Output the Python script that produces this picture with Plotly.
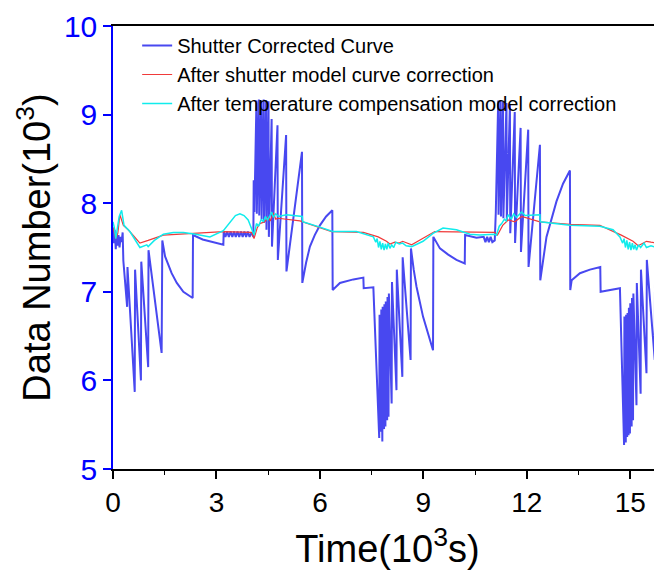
import plotly.graph_objects as go

# Shutter Corrected Curve (time in 10^3 s, data number in 10^3)
shutter_t = [0.00, 0.03, 0.05, 0.08, 0.10, 0.13, 0.16, 0.19, 0.22, 0.25, 0.28, 0.30, 0.41, 0.42,
             0.63, 0.64, 0.81, 0.82, 1.02, 1.03, 1.41, 1.43, 1.51, 1.70, 1.85, 2.04, 2.31, 2.32,
             2.60, 2.90, 3.20, 3.21, 3.26, 3.31, 3.36, 3.41, 3.46, 3.51, 3.56, 3.61, 3.66, 3.71,
             3.76, 3.81, 3.86, 3.91, 3.96, 4.02, 4.07, 4.08, 4.10, 4.16, 4.17, 4.23, 4.24, 4.30,
             4.31, 4.37, 4.38, 4.44, 4.45, 4.51, 4.52, 4.60, 4.61, 4.77, 4.78, 5.02, 5.03, 5.48,
             5.49, 5.60, 5.71, 5.85, 6.00, 6.18, 6.36, 6.37, 6.58, 6.97, 7.26, 7.27, 7.55, 7.72,
             7.73, 7.77, 7.78, 7.81, 7.82, 7.86, 7.87, 7.90, 7.91, 7.95, 7.96, 7.99, 8.00, 8.08,
             8.09, 8.22, 8.23, 8.39, 8.40, 8.63, 8.64, 8.72, 8.80, 8.99, 9.14, 9.28, 9.29, 9.48,
             9.72, 9.96, 10.20, 10.21, 10.54, 10.75, 10.80, 10.85, 10.90, 10.95, 11.00, 11.07,
             11.10, 11.17, 11.18, 11.24, 11.25, 11.31, 11.32, 11.41, 11.42, 11.51, 11.52, 11.65,
             11.66, 11.82, 11.83, 12.04, 12.05, 12.38, 12.39, 12.57, 12.86, 13.05, 13.25, 13.26,
             13.30, 13.54, 13.83, 14.13, 14.14, 14.70, 14.82, 14.83, 14.87, 14.88, 14.91, 14.92,
             14.95, 14.96, 14.99, 15.00, 15.04, 15.05, 15.08, 15.09, 15.18, 15.19, 15.30, 15.31,
             15.47, 15.48, 15.71, 15.72, 15.80, 15.92]
shutter_v = [7.72, 7.55, 7.70, 7.48, 7.66, 7.52, 7.64, 7.50, 7.62, 7.56, 7.67, 7.35, 6.83, 7.28,
             5.87, 7.25, 6.00, 7.34, 6.15, 7.47, 6.31, 7.58, 7.40, 7.21, 7.10, 7.00, 6.93, 7.64,
             7.59, 7.56, 7.53, 7.68, 7.62, 7.68, 7.62, 7.68, 7.62, 7.68, 7.62, 7.68, 7.62, 7.68,
             7.62, 7.68, 7.62, 7.68, 7.62, 7.67, 7.62, 8.26, 7.90, 9.16, 7.88, 9.17, 7.86, 9.16,
             7.82, 9.17, 7.78, 9.16, 7.70, 9.15, 7.62, 8.95, 7.51, 8.88, 7.36, 8.77, 7.23, 8.58,
             7.10, 7.33, 7.51, 7.64, 7.75, 7.85, 7.92, 7.02, 7.10, 7.14, 7.16, 7.04, 7.05, 5.35,
             6.74, 5.42, 6.80, 5.31, 6.83, 5.45, 6.86, 5.48, 6.89, 5.55, 6.94, 5.59, 6.98, 5.74,
             7.11, 5.89, 7.25, 6.04, 7.39, 6.23, 7.49, 7.25, 7.06, 6.72, 6.53, 6.34, 7.62, 7.49,
             7.42, 7.36, 7.32, 7.64, 7.61, 7.62, 7.56, 7.62, 7.56, 7.62, 7.56, 7.58,
             7.89, 9.16, 7.87, 9.16, 7.85, 9.15, 7.83, 9.13, 7.80, 9.11, 7.66, 9.03,
             7.55, 8.85, 7.45, 8.83, 7.28, 8.66, 7.13, 7.62, 8.02, 8.22, 8.37, 7.02,
             7.13, 7.21, 7.25, 7.28, 7.00, 7.04, 5.27, 6.72, 5.30, 6.74, 5.36, 6.76,
             5.38, 6.82, 5.40, 6.87, 5.48, 6.93, 5.55, 6.98, 5.72, 7.10, 5.85, 7.25,
             6.08, 7.36, 6.23, 7.47, 7.25, 6.96]

# After shutter model curve correction
model_t = [0.00, 0.08, 0.14, 0.20, 0.30, 0.44, 0.60, 0.78, 1.02, 1.46, 2.33, 3.20, 4.02, 4.09,
           4.18, 4.26, 4.40, 4.50, 4.56, 4.65, 4.72, 4.79, 5.42, 6.34, 7.26, 7.69, 7.93, 8.03,
           8.17, 8.30, 8.40, 8.66, 9.33, 11.07, 11.15, 11.30, 11.46, 11.65, 11.85, 12.38, 13.25,
           14.12, 14.74, 15.08, 15.23, 15.47, 15.60, 15.76, 15.92]
model_v = [7.73, 7.60, 7.66, 7.87, 7.75, 7.70, 7.63, 7.55, 7.58, 7.64, 7.66, 7.68, 7.67, 7.60,
           7.72, 7.77, 7.79, 7.84, 7.80, 7.89, 7.82, 7.83, 7.80, 7.68, 7.67, 7.62, 7.57, 7.54,
           7.56, 7.55, 7.57, 7.53, 7.68, 7.67, 7.64, 7.75, 7.81, 7.79, 7.85, 7.79, 7.76,
           7.75, 7.64, 7.57, 7.52, 7.57, 7.56, 7.55, 7.53]

# After temperature compensation model correction
temp_t = [0.00, 0.04, 0.08, 0.12, 0.18, 0.25, 0.32, 0.49, 0.64, 0.78, 0.98, 1.02, 1.20, 1.46,
          1.75, 2.04, 2.40, 2.81, 3.20, 3.39, 3.55, 3.68, 3.80, 3.92, 4.05, 4.09, 4.16, 4.22,
          4.30, 4.36, 4.42, 4.48, 4.55, 4.60, 4.65, 4.72, 4.80, 5.03, 5.49, 5.50, 6.00, 6.37,
          7.06, 7.55, 7.62, 7.66, 7.70, 7.74, 7.78, 7.82, 7.86, 7.90, 7.94, 7.98, 8.03, 8.08,
          8.14, 8.20, 8.30, 8.40, 8.50, 8.66, 8.99, 9.28, 9.57, 9.96, 10.35, 10.64, 11.07, 11.12,
          11.20, 11.27, 11.35, 11.40, 11.46, 11.55, 11.62, 11.70, 11.85, 11.95, 12.38, 12.39,
          13.25, 14.12, 14.50, 14.70, 14.78, 14.82, 14.86, 14.90, 14.94, 14.98, 15.02, 15.06,
          15.10, 15.14, 15.18, 15.24, 15.30, 15.40, 15.47, 15.60, 15.76, 15.92]
temp_v = [7.79, 7.72, 7.60, 7.70, 7.85, 7.92, 7.75, 7.68, 7.58, 7.50, 7.53, 7.51, 7.58, 7.65,
          7.67, 7.67, 7.65, 7.62, 7.69, 7.79, 7.86, 7.88, 7.86, 7.81, 7.68, 7.64, 7.77, 7.74,
          7.82, 7.79, 7.85, 7.81, 7.86, 7.90, 7.84, 7.88, 7.85, 7.87, 7.85, 7.79, 7.73, 7.68,
          7.68, 7.62, 7.56, 7.60, 7.50, 7.57, 7.48, 7.55, 7.47, 7.54, 7.48, 7.55, 7.49, 7.53,
          7.50, 7.56, 7.54, 7.55, 7.52, 7.51, 7.57, 7.66, 7.72, 7.70, 7.65, 7.64, 7.65, 7.64,
          7.74, 7.77, 7.82, 7.80, 7.87, 7.82, 7.88, 7.84, 7.90, 7.86, 7.87, 7.79,
          7.75, 7.74, 7.70, 7.62, 7.55, 7.60, 7.50, 7.58, 7.48, 7.56, 7.47, 7.55,
          7.48, 7.53, 7.47, 7.53, 7.50, 7.55, 7.50, 7.52, 7.50, 7.50]

FONT = "Arial, Liberation Sans, sans-serif"

fig = go.Figure()
fig.add_trace(go.Scatter(x=shutter_t, y=shutter_v, mode="lines", name="Shutter Corrected Curve",
                         line=dict(color="#4848f0", width=2)))
fig.add_trace(go.Scatter(x=model_t, y=model_v, mode="lines", name="After shutter model curve correction",
                         line=dict(color="#f03a3a", width=1.2)))
fig.add_trace(go.Scatter(x=temp_t, y=temp_v, mode="lines",
                         name="After temperature compensation model correction",
                         line=dict(color="#10ecec", width=1.5)))

# page body has an 8px margin, so the figure is sized/shifted to compensate
fig.update_layout(
    width=654, height=566,
    margin=dict(l=105, r=0, t=18, b=105),
    paper_bgcolor="white", plot_bgcolor="white",
    font=dict(family=FONT, color="black"),
    showlegend=True,
    legend=dict(x=0.044, y=1.0, xanchor="left", yanchor="top",
                bgcolor="rgba(0,0,0,0)", font=dict(size=20, family=FONT),
                tracegroupgap=0, itemwidth=30),
)
fig.update_xaxes(
    range=[0, 15.92], showgrid=False, zeroline=False,
    showline=True, linecolor="black", linewidth=1.5, mirror=True,
    ticks="outside", ticklen=8, tickwidth=1.5, tickcolor="black",
    tick0=0, dtick=3, tickfont=dict(size=28, color="black"),
    minor=dict(dtick=1.5, ticks="outside", ticklen=4, tickcolor="black", tickwidth=1.2),
    title=dict(text="Time(10<sup>3</sup>s)", font=dict(size=38, color="black"), standoff=18),
)
fig.update_yaxes(
    range=[5, 10], showgrid=False, zeroline=False,
    showline=True, linecolor="#0000ff", linewidth=1.5,
    ticks="outside", ticklen=8, tickwidth=1.5, tickcolor="#0000ff",
    tick0=5, dtick=1, tickfont=dict(size=30, color="#0000ff"),
    title=dict(text="Data Number(10<sup>3</sup>)", font=dict(size=38, color="black"), standoff=2),
)

fig.write_html("out.html")
